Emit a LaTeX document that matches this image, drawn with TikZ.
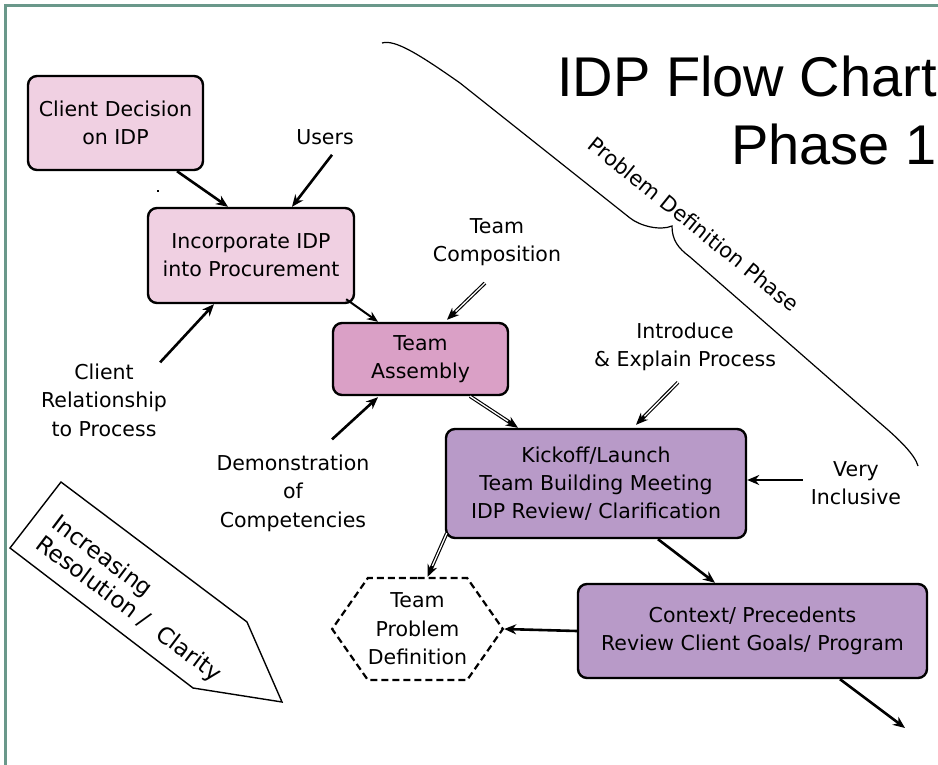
\documentclass[tikz,border=0pt]{standalone}
\usepackage{fontspec}
\setmainfont{DejaVu Sans}
\newfontfamily\titlefont{Liberation Sans}
\usetikzlibrary{arrows.meta,calc,shapes.symbols}
\definecolor{framecol}{RGB}{106,152,138}
\definecolor{pinkA}{RGB}{240,208,226}
\definecolor{pinkB}{RGB}{218,160,198}
\definecolor{purpA}{RGB}{184,154,200}
\newcommand{\dblarrow}[2]{%
  \draw[darrouter] #1 -- #2;
  \draw[darrinner] #1 -- #2;}
\begin{document}
\begin{tikzpicture}[x=1pt,y=-1pt,
  lbl/.style={font=\fontsize{20.5}{28.5}\selectfont, align=center, inner sep=0pt},
  box/.style={draw, line width=2.4pt, rounded corners=9pt, font=\fontsize{20.5}{28}\selectfont, align=center, inner sep=0pt},
  arr/.style={line width=2.6pt, -{Stealth[length=12pt,width=10pt]}},
  thinarr/.style={line width=2pt, -{Stealth[length=11pt,width=9pt]}},
  darrouter/.style={draw=black, line width=3.6pt, -{Stealth[length=12pt,width=10pt]}},
  darrinner/.style={draw=white, line width=1.3pt, shorten >=12pt},
  hexbox/.style={draw, signal, signal to=east and west, signal pointer angle=110,
     line width=2.2pt, dash pattern=on 7pt off 4pt, font=\fontsize{20.5}{28.5}\selectfont, align=center, inner sep=0pt},
  brace/.style={line width=1.2pt},
  title/.style={font=\titlefont\fontsize{56}{68}\selectfont, inner sep=0pt}
]
\useasboundingbox (0,0) rectangle (938,765);
% frame
\draw[framecol, line width=3pt] (5,765) -- (5,6) -- (938,6);

% title
\node[title, anchor=base east] (t1) at (937,97) {IDP Flow Chart};
\node[title, anchor=base east] (t2) at (937,165) {Phase 1};

% brace
\draw[brace] (382,43) .. controls (395,39) and (420,55) .. (460,83) -- (630,218)
  .. controls (640,226) and (660,231) .. (672,226)
  .. controls (672,240) and (678,248) .. (690,257) -- (880,423)
  .. controls (900,440) and (915,455) .. (918,466);
\node[lbl, font=\fontsize{21}{28}\selectfont, rotate=-39] (pdp) at (694,224) {Problem Definition Phase};

% boxes
\node[box, fill=pinkA, minimum width=175pt, minimum height=94pt] (cd) at (115.5,123) {Client Decision\\on IDP};
\node[box, fill=pinkA, minimum width=206pt, minimum height=95pt] (inc) at (251,255.5) {Incorporate IDP\\into Procurement};
\node[box, fill=pinkB, minimum width=175pt, minimum height=72pt] (ta) at (420.5,359) {Team\\Assembly};
\node[box, fill=purpA, minimum width=300pt, minimum height=109pt] (ko) at (596,483.5) {Kickoff/Launch\\Team Building Meeting\\IDP Review/ Clarification};
\node[box, fill=purpA, minimum width=349pt, minimum height=94pt] (ctx) at (752.5,631) {Context/ Precedents\\Review Client Goals/ Program};
\node[hexbox, minimum width=169pt, minimum height=102pt] (hex) at (417.5,629) {Team\\Problem\\Definition};

% labels
\node[lbl] (users) at (325,137) {Users};
\node[lbl] (tcomp) at (497,242) {Team\\Composition};
\node[lbl] (crel) at (104,400) {Client\\Relationship\\to Process};
\node[lbl] (demo) at (293,493) {Demonstration\\of\\Competencies};
\node[lbl] (intro) at (685,347) {Introduce\\\& Explain Process};
\node[lbl] (very) at (856,483) {Very\\Inclusive};

% connectors
\draw[arr] ($(cd.south)+(61.5,0)$) -- ($(inc.north)+(-23,0)$);
\draw[arr] ($(users.south)+(7,10)$) -- ($(inc.north)+(41,0)$);
\draw[arr] ($(crel.north east)+(-7,-1)$) -- ($(inc.south)+(-37,0)$);
\draw[thinarr] ($(inc.south east)+(-9,-5)$) -- ($(ta.north)+(-42.5,0)$);
\dblarrow{($(tcomp.south)+(-12,17)$)}{($(ta.north)+(26.5,-2)$)}
\draw[arr] ($(demo.north)+(39,-15)$) -- ($(ta.south)+(-42.5,1)$);
\dblarrow{($(ta.south)+(49.5,0)$)}{($(ko.north)+(-78,0)$)}
\dblarrow{($(intro.south)+(-7,11)$)}{($(ko.north)+(40,-3)$)}
\draw[arr] ($(very.west)+(-8,-3)$) -- ($(ko.east)+(0,-3.5)$);
\draw[arr] ($(ko.south)+(62,0)$) -- ($(ctx.north)+(-37.5,0)$);
\dblarrow{($(ko.south west)+(2,-6)$)}{($(hex.north)+(10,0)$)}
\draw[arr] (ctx.west) -- (hex.east);
\coordinate (out) at (905,728);
\draw[arr] ($(ctx.south)+(87.5,0)$) -- (out);

% increasing resolution arrow
\draw[line width=1.4pt, line join=miter] (61,482) -- (247,622) -- (282,702) -- (193,688) -- (10,548) -- cycle;
\node[lbl, font=\fontsize{23}{26}\selectfont, align=left, rotate=-37, anchor=north west] (irc) at (61,512) {Increasing\\Resolution /\ \ Clarity};

% stray dot
\fill (157,190) rectangle (159,192);
\end{tikzpicture}
\end{document}
